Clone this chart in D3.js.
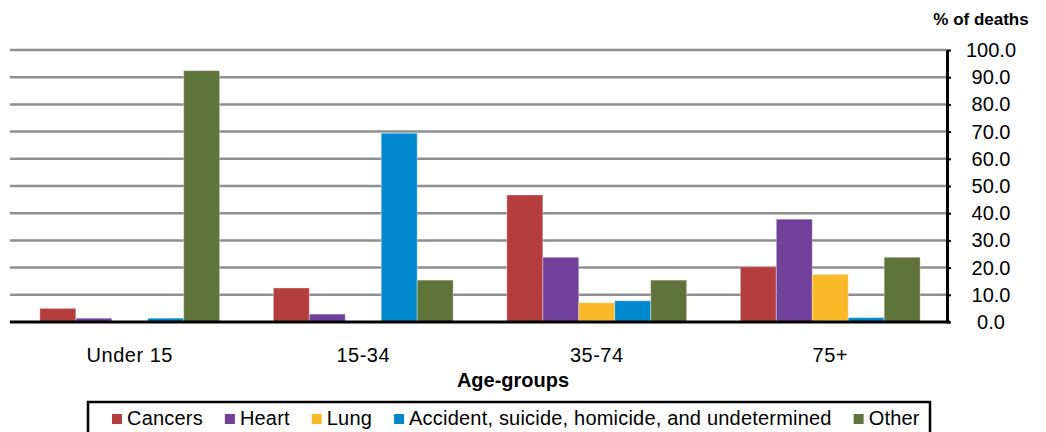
<!DOCTYPE html>
<html>
<head>
<meta charset="utf-8">
<script src="https://cdn.jsdelivr.net/npm/d3@7"></script>
<style>
    body { margin: 0; background: #fff; }
    svg { display: block; font-family: "Liberation Sans", Arial, sans-serif; }
</style>
</head>
<body>
<svg id="chart" width="1046" height="432"></svg>
<script>
const ageGroups = ["Under 15", "15-34", "35-74", "75+"];
const causes = ["Cancers", "Heart", "Lung", "Accident, suicide, homicide, and undetermined", "Other"];
const causeColors = ["#B43E3E", "#71409A", "#F9B928", "#0088CE", "#5E743A"];

// % of deaths per age group, one array per cause
const cancers  = [5.0, 12.5, 46.7, 20.3];
const heart    = [1.4, 2.9, 23.8, 37.8];
const lung     = [0.0, 0.0, 7.1, 17.5];
const accident = [1.4, 69.4, 7.8, 1.6];
const other    = [92.4, 15.4, 15.4, 23.8];

const yTicks = [0, 10, 20, 30, 40, 50, 60, 70, 80, 90, 100];

const series = [cancers, heart, lung, accident, other];

const svg = d3.select("#chart");
const plotLeft = 13, plotRight = 947, plotTop = 50, plotBottom = 322;

const x0 = d3.scaleBand()
    .domain(ageGroups)
    .range([plotLeft, plotRight])
    .paddingInner(0.23)
    .paddingOuter(0.115);

const x1 = d3.scaleBand()
    .domain(causes)
    .range([0, x0.bandwidth()]);

const y = d3.scaleLinear().domain([0, 100]).range([plotBottom, plotTop]);

// gridlines
svg.append("g")
    .selectAll("line")
    .data(yTicks.filter(d => d > 0))
    .enter().append("line")
    .attr("x1", 10)
    .attr("x2", plotRight)
    .attr("y1", d => y(d))
    .attr("y2", d => y(d))
    .attr("stroke", "#8f8f8f")
    .attr("stroke-width", 2.5);

// bars
const rows = ageGroups.map((g, i) => ({
    group: g,
    values: causes.map((c, j) => ({ cause: c, value: series[j][i], color: causeColors[j] }))
}));

svg.append("g")
    .selectAll("g")
    .data(rows)
    .enter().append("g")
    .attr("transform", d => "translate(" + x0(d.group) + ",0)")
    .selectAll("rect")
    .data(d => d.values.filter(v => v.value > 0))
    .enter().append("rect")
    .attr("x", d => x1(d.cause))
    .attr("width", x1.bandwidth())
    .attr("y", d => y(d.value))
    .attr("height", d => y(0) - y(d.value))
    .attr("fill", d => d.color)
    .attr("stroke", "#fff")
    .attr("stroke-opacity", 0.35)
    .attr("stroke-width", 1);

// bottom axis line
svg.append("line")
    .attr("x1", 10).attr("x2", plotRight + 3)
    .attr("y1", plotBottom).attr("y2", plotBottom)
    .attr("stroke", "#000")
    .attr("stroke-width", 3);

// right axis
const yAxis = svg.append("g")
    .attr("transform", "translate(" + plotRight + ",0)")
    .call(d3.axisRight(y).tickValues(yTicks).tickFormat(d3.format(".1f")).tickSize(4).tickSizeOuter(0));

yAxis.select(".domain")
    .attr("stroke", "#000")
    .attr("stroke-width", 3);
yAxis.selectAll(".tick line")
    .attr("stroke", "#000")
    .attr("stroke-width", 2);
yAxis.selectAll(".tick text")
    .attr("x", 44)
    .attr("text-anchor", "middle")
    .attr("fill", "#000")
    .style("font-size", "20px")
    .style("font-family", "'Liberation Sans', Arial, sans-serif");

svg.append("text")
    .attr("x", 981)
    .attr("y", 25)
    .attr("text-anchor", "middle")
    .style("font-size", "17px")
    .style("font-weight", "bold")
    .text("% of deaths");

// category labels
svg.append("g")
    .selectAll("text")
    .data(ageGroups)
    .enter().append("text")
    .attr("x", d => x0(d) + x0.bandwidth() / 2)
    .attr("y", 362)
    .attr("text-anchor", "middle")
    .style("font-size", "20px")
    .style("letter-spacing", "0.5px")
    .text(d => d);

svg.append("text")
    .attr("x", 513)
    .attr("y", 387)
    .attr("text-anchor", "middle")
    .style("font-size", "20px")
    .style("font-weight", "bold")
    .text("Age-groups");

// legend
svg.append("rect")
    .attr("x", 88)
    .attr("y", 402)
    .attr("width", 842)
    .attr("height", 40)
    .attr("fill", "#fff")
    .attr("stroke", "#000")
    .attr("stroke-width", 2.5);

const legend = svg.append("g");
let lx = 112;
causes.forEach((c, j) => {
    legend.append("rect")
        .attr("x", lx)
        .attr("y", 414)
        .attr("width", 10)
        .attr("height", 10)
        .attr("fill", causeColors[j]);
    const t = legend.append("text")
        .attr("x", lx + 15)
        .attr("y", 425)
        .style("font-size", "20px")
        .style("letter-spacing", "0.2px")
        .text(c);
    lx += 15 + t.node().getComputedTextLength() + 22;
});
</script>
</body>
</html>
